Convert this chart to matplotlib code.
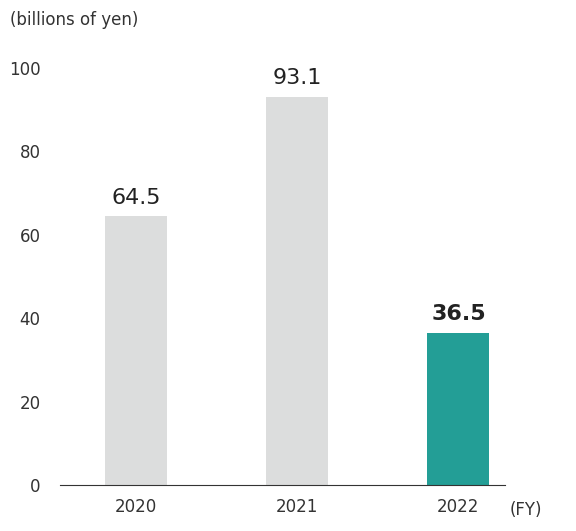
import matplotlib
matplotlib.use("Agg")
import matplotlib.pyplot as plt

years = ["2020", "2021", "2022"]
values = [64.5, 93.1, 36.5]
colors = ["#dcdddd", "#dcdddd", "#239e96"]
yticks = [0, 20, 40, 60, 80, 100]

fig = plt.figure(figsize=(5.76, 5.31), dpi=100)
ax = fig.add_axes([0.104, 0.0866, 0.773, 0.7854])
x = range(len(years))
ax.bar(x, values, width=0.385, color=colors)
for i, v in enumerate(values):
    ax.text(i, v + 2, f"{v:.1f}", ha="center", va="bottom", fontsize=16,
            color="#222222", fontweight="bold" if i == 2 else "normal")
ax.set_xlim(-0.472, 2.29)
ax.set_ylim(0, 100)
ax.set_yticks(yticks)
ax.set_xticks(list(x))
ax.set_xticklabels(years)
ax.tick_params(length=0, labelsize=12, colors="#333333")
ax.tick_params(axis="y", pad=14)
ax.tick_params(axis="x", pad=9)
for s in ["top", "right", "left"]:
    ax.spines[s].set_visible(False)
ax.spines["bottom"].set_color("#333333")
fig.text(0.017, 0.962, "(billions of yen)", fontsize=12, color="#333333", va="center")
fig.text(0.885, 0.040, "(FY)", fontsize=12, color="#333333", va="center")
fig.savefig("out.png", dpi=100)
